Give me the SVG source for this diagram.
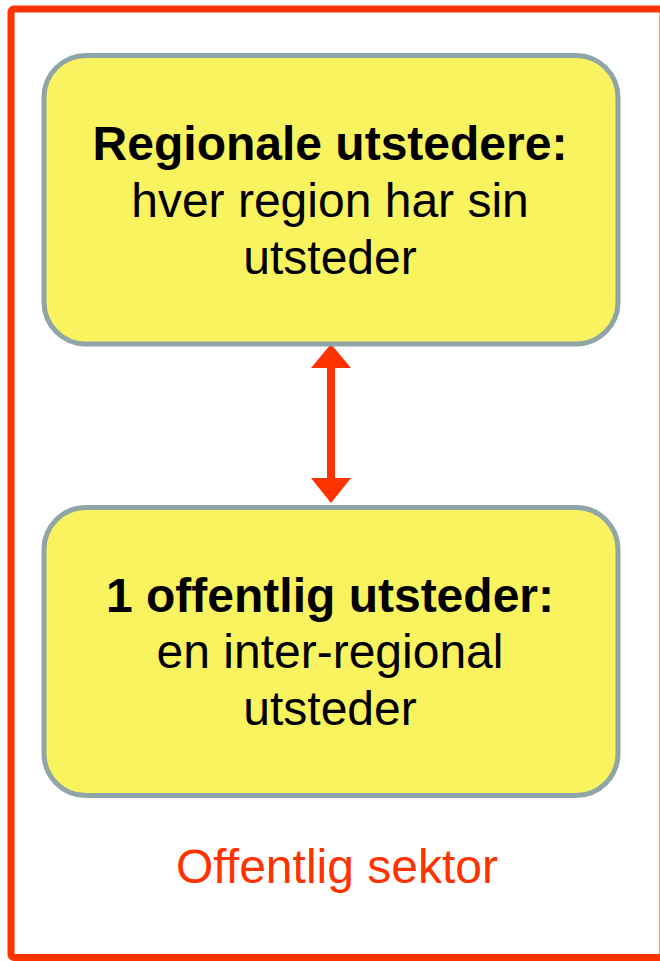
<svg xmlns="http://www.w3.org/2000/svg" width="660" height="961" viewBox="0 0 660 961">
<style>
.box{fill:#f8f35e;stroke:#8fa5a7;stroke-width:5}
.t{font-family:"Liberation Sans",Arial,sans-serif;font-size:48px;text-anchor:middle;fill:#000}
.b{font-weight:bold}
.red{fill:#ff3300}
</style>
<rect x="0" y="0" width="660" height="961" fill="#ffffff"/>
<g id="frame">
<rect x="11" y="9" width="652" height="948.5" rx="3" fill="none" stroke="#ff3300" stroke-width="7"/>
<text class="t" x="337" y="882.7" style="fill:#ff3300">Offentlig sektor</text>
</g>
<g id="connectors">
<rect class="red" x="327" y="366" width="8" height="114"/>
<polygon class="red" points="331,344 351,368 311,368"/>
<polygon class="red" points="331,503 351,478 311,478"/>
</g>
<g id="node-regional">
<rect class="box" x="44" y="55.5" width="574" height="288.5" rx="42"/>
<text class="t b" x="330" y="160">Regionale utstedere:</text>
<text class="t" x="330" y="217.3">hver region har sin</text>
<text class="t" x="330" y="274">utsteder</text>
</g>
<g id="node-offentlig">
<rect class="box" x="44" y="507.5" width="574" height="288" rx="42"/>
<text class="t b" x="330" y="611.7">1 offentlig utsteder:</text>
<text class="t" x="330" y="668">en inter-regional</text>
<text class="t" x="330" y="725">utsteder</text>
</g>
</svg>
